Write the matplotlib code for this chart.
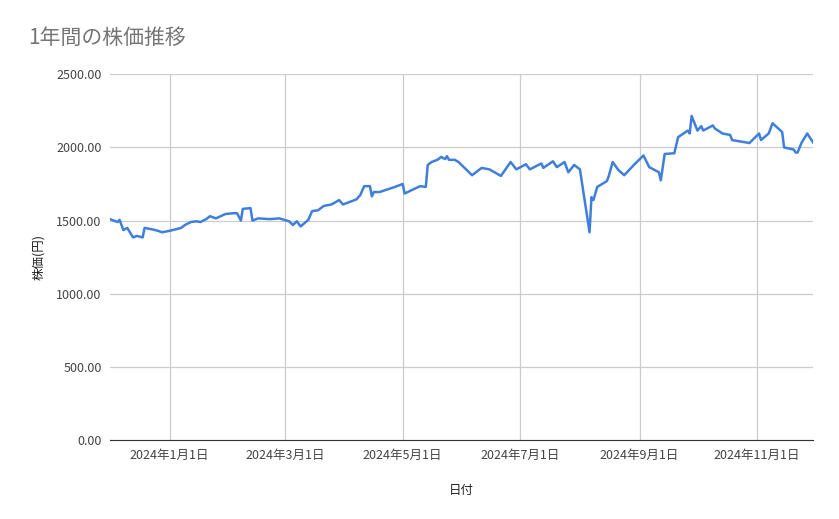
import matplotlib
matplotlib.use("Agg")
import matplotlib.pyplot as plt
import pandas as pd

plt.rcParams['font.family'] = ['Noto Sans CJK JP', 'DejaVu Sans']

start = "2023-12-01"
day_offsets = [0,4,5,7,9,12,14,17,18,22,25,27,31,37,39,42,45,47,50,52,55,60,64,66,68,69,73,74,77,83,88,93,95,97,99,103,105,108,111,115,119,121,124,128,130,132,135,136,137,140,148,152,153,157,161,164,165,167,170,172,174,175,176,179,
               181,188,193,197,203,208,211,216,218,224,225,230,232,236,238,241,244,249,250,251,253,258,259,261,264,267,272,277,280,285,286,288,293,295,300,301,302,305,307,308,313,314,318,322,323,332,337,338,342,344,349,350,355,356,357,359,362,365]
prices = [1510,1490,1505,1435,1450,1385,1395,1385,1450,1440,1430,1420,1430,1450,1470,1490,1495,1490,1510,1530,1515,1545,1550,1550,1500,1580,1585,1500,1515,1510,1515,1495,1470,1495,1460,1505,1565,1570,1600,1610,1640,1610,1625,1645,1675,1735,1735,1665,1695,1695,1730,1750,1685,1710,1735,1730,1880,1900,1915,1935,1920,1940,1915,1915,
          1900,1810,1860,1850,1805,1900,1850,1885,1850,1890,1860,1905,1865,1900,1830,1880,1850,1420,1660,1640,1730,1770,1805,1900,1845,1810,1880,1945,1865,1830,1775,1955,1960,2070,2115,2095,2215,2115,2145,2115,2150,2130,2095,2085,2050,2030,2095,2050,2095,2165,2105,2000,1985,1965,1965,2030,2095,2035]
tick_dates = ["2024-01-01","2024-03-01","2024-05-01","2024-07-01","2024-09-01","2024-11-01"]
tick_labels = ["2024年1月1日","2024年3月1日","2024年5月1日","2024年7月1日","2024年9月1日","2024年11月1日"]

dates = pd.Timestamp(start) + pd.to_timedelta(day_offsets, unit="D")

fig = plt.figure(figsize=(8.39, 5.19), dpi=100)
ax = fig.add_axes([0.131, 0.152, 0.838, 0.705])
ax.plot(dates, prices, color="#3f7fdc", linewidth=1.8)
ax.set_xlim(dates[0], dates[-1])
ax.set_ylim(0, 2500)
ax.set_yticks([0, 500, 1000, 1500, 2000, 2500])
ax.set_yticklabels([f"{v:.2f}" for v in [0, 500, 1000, 1500, 2000, 2500]])
ax.set_xticks(pd.to_datetime(tick_dates))
ax.set_xticklabels(tick_labels)
ax.grid(True, color="#cccccc", linewidth=0.9)
ax.set_axisbelow(True)
for s in ["top", "right", "left"]:
    ax.spines[s].set_visible(False)
ax.spines["bottom"].set_color("#333333")
ax.tick_params(length=0, labelsize=9, colors="#444444", pad=6)
ax.set_xlabel("日付", fontsize=9, color="#222222", labelpad=16)
ax.set_ylabel("株価(円)", fontsize=9, color="#222222", labelpad=8)
fig.text(0.033, 0.915, "1年間の株価推移", fontsize=15, color="#757575")
fig.savefig("out.png", dpi=100)
